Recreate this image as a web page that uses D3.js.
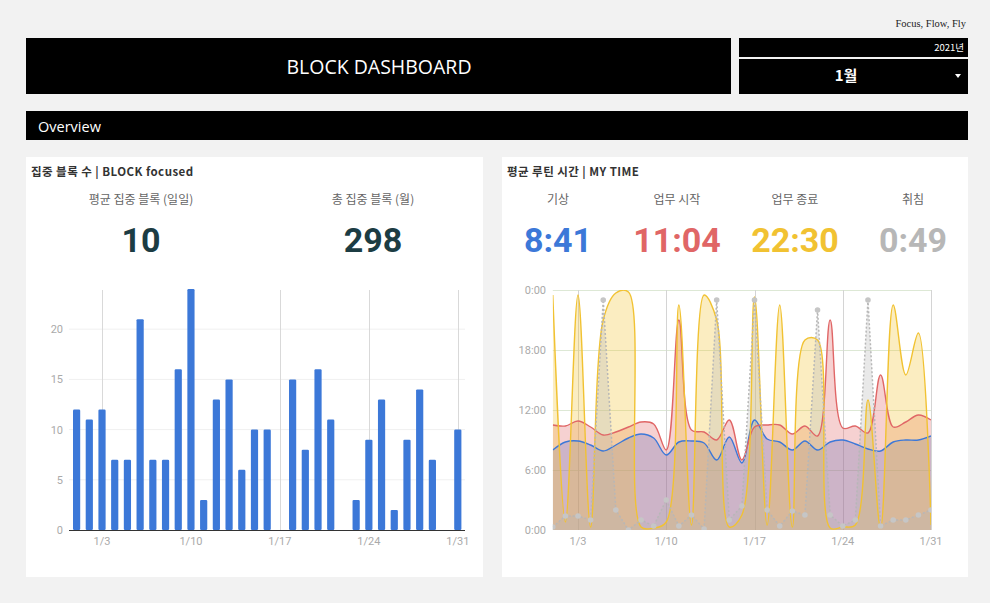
<!DOCTYPE html>
<html>
<head>
<meta charset="utf-8">
<script src="https://cdn.jsdelivr.net/npm/d3@7"></script>
<style>
  html, body { margin: 0; padding: 0; background: #f2f2f2; }
  svg { display: block; }
</style>
</head>
<body>
<svg id="chart" width="990" height="603"></svg>
<script>
// ---------- data ----------
const days = [1,2,3,4,5,6,7,8,9,10,11,12,13,14,15,16,17,18,19,20,21,22,23,24,25,26,27,28,29,30,31];
const blocks = [12,11,12,7,7,21,7,7,16,24,3,13,15,6,10,10,0,15,8,16,11,0,3,9,13,2,9,14,7,0,10];
const wakeTime  = [8.0,8.8,8.9,8.5,7.9,8.5,9.2,9.6,9.2,7.5,8.8,8.9,8.7,7.0,9.3,6.7,11.0,9.1,8.8,8.0,8.9,8.0,8.8,9.0,8.6,8.1,7.9,8.8,9.0,9.0,9.4];
const workStart = [10.5,10.4,10.9,10.3,9.5,9.8,10.3,10.8,10.6,8.0,21.0,10.0,9.8,9.0,11.0,7.0,10.3,10.5,10.5,9.6,10.4,9.4,21.0,10.2,10.4,9.7,15.5,10.3,10.8,11.5,11.0];
const workEnd   = [23.5,0.8,23.5,0.3,21.0,23.7,23.8,0.3,0.2,0.8,22.5,0.5,23.5,21.0,0.3,1.5,23.3,0.5,22.5,0.3,19.0,19.0,0.2,0.3,0.5,13.0,0.2,22.5,15.5,19.7,0.5];
const sleepTime = [0.3,1.4,1.4,1.0,23.0,2.0,0.0,1.0,0.4,3.0,0.4,1.5,0.1,23.0,1.0,2.4,23.0,2.0,0.4,1.9,1.5,22.0,1.5,0.4,1.0,23.0,0.4,1.0,1.0,1.5,2.0];
const xTickDays = [3,10,17,24,31];
const xTickLabels = ["1/3","1/10","1/17","1/24","1/31"];
const blockTicks = [0,5,10,15,20];
const hourTicks = [0,6,12,18,24];
const hourTickLabels = ["0:00","6:00","12:00","18:00","0:00"];
const kpiBlockLabels = ["평균 집중 블록 (일일)", "총 집중 블록 (월)"];
const kpiBlockValues = ["10", "298"];
const routineLabels = ["기상", "업무 시작", "업무 종료", "취침"];
const routineValues = ["8:41", "11:04", "22:30", "0:49"];
const routineColors = ["#3c78d8", "#e06666", "#f1c232", "#b7b7b7"];

const svg = d3.select("#chart");
const KR = "'Noto Sans CJK KR', 'Noto Sans', sans-serif";

// ---------- header ----------
svg.append("text").attr("x", 966).attr("y", 27).attr("text-anchor", "end")
  .attr("font-family", "'Liberation Serif', serif").attr("font-size", 10.5).attr("fill", "#222")
  .text("Focus, Flow, Fly");

svg.append("rect").attr("x", 26).attr("y", 38).attr("width", 705).attr("height", 56).attr("fill", "#000");
svg.append("text").attr("x", 379).attr("y", 74).attr("text-anchor", "middle")
  .attr("font-family", "'Open Sans', sans-serif").attr("font-size", 19.5).attr("fill", "#fff")
  .text("BLOCK DASHBOARD");

svg.append("rect").attr("x", 739).attr("y", 38).attr("width", 229).attr("height", 19).attr("fill", "#000");
svg.append("text").attr("x", 964).attr("y", 51).attr("text-anchor", "end")
  .attr("font-family", KR).attr("font-size", 9.5).attr("fill", "#fff").text("2021년");
svg.append("rect").attr("x", 739).attr("y", 59).attr("width", 229).attr("height", 35).attr("fill", "#000");
svg.append("text").attr("x", 846).attr("y", 80.5).attr("text-anchor", "middle")
  .attr("font-family", KR).attr("font-weight", "bold").attr("font-size", 15).attr("fill", "#fff").text("1월");
svg.append("path").attr("d", "M955,74 L961,74 L958,78 Z").attr("fill", "#fff");

svg.append("rect").attr("x", 26).attr("y", 111).attr("width", 942).attr("height", 29).attr("fill", "#000");
svg.append("text").attr("x", 38).attr("y", 131.5)
  .attr("font-family", "'Open Sans', sans-serif").attr("font-size", 14.5).attr("fill", "#fff").text("Overview");

// ---------- panels ----------
svg.append("rect").attr("x", 26).attr("y", 157).attr("width", 457).attr("height", 420).attr("fill", "#fff");
svg.append("rect").attr("x", 502).attr("y", 157).attr("width", 466).attr("height", 420).attr("fill", "#fff");

svg.append("text").attr("x", 31).attr("y", 176).attr("font-family", KR).attr("font-weight", "bold")
  .attr("font-size", 11.5).attr("letter-spacing", 0.45).attr("fill", "#333").text("집중 블록 수 | BLOCK focused");
svg.append("text").attr("x", 507).attr("y", 176).attr("font-family", KR).attr("font-weight", "bold")
  .attr("font-size", 11.5).attr("letter-spacing", 0.45).attr("fill", "#333").text("평균 루틴 시간 | MY TIME");

// KPI left
const kpiX = [141, 373];
kpiBlockLabels.forEach((t, i) => {
  svg.append("text").attr("x", kpiX[i]).attr("y", 204).attr("text-anchor", "middle")
    .attr("font-family", KR).attr("font-size", 12).attr("fill", "#666").text(t);
  svg.append("text").attr("x", kpiX[i]).attr("y", 252).attr("text-anchor", "middle")
    .attr("font-family", "Roboto, 'Liberation Sans', sans-serif").attr("font-weight", "bold")
    .attr("font-size", 34).attr("fill", "#1c3c43").text(kpiBlockValues[i]);
});
// KPI right
const rX = [558, 677, 795, 913];
routineLabels.forEach((t, i) => {
  svg.append("text").attr("x", rX[i]).attr("y", 204).attr("text-anchor", "middle")
    .attr("font-family", KR).attr("font-size", 12).attr("fill", "#666").text(t);
  svg.append("text").attr("x", rX[i]).attr("y", 252).attr("text-anchor", "middle")
    .attr("font-family", "Roboto, 'Liberation Sans', sans-serif").attr("font-weight", "bold")
    .attr("font-size", 34).attr("fill", routineColors[i]).text(routineValues[i]);
});

// ---------- bar chart ----------
const bx = d3.scaleLinear().domain([1, 31]).range([76.6, 457.8]);
const by = d3.scaleLinear().domain([0, 24]).range([530, 289]);
const gB = svg.append("g");
gB.selectAll(".hg").data(blockTicks.slice(1)).join("line")
  .attr("x1", 69).attr("x2", 465).attr("y1", d => by(d)).attr("y2", d => by(d))
  .attr("stroke", "#f0f0f0").attr("stroke-width", 1);
gB.selectAll(".vg").data(xTickDays).join("line")
  .attr("x1", d => Math.round(bx(d)) + 0.5).attr("x2", d => Math.round(bx(d)) + 0.5)
  .attr("y1", 290).attr("y2", 530).attr("stroke", "#d9d9d9").attr("stroke-width", 1);
gB.selectAll(".bar").data(days.map((d, i) => ({d, v: blocks[i]})).filter(o => o.v > 0)).join("rect")
  .attr("x", o => bx(o.d) - 3.6).attr("width", 7.2)
  .attr("y", o => by(o.v)).attr("height", o => by(0) - by(o.v))
  .attr("rx", 1.2).attr("fill", "#3c78d8");
gB.append("line").attr("x1", 69).attr("x2", 465).attr("y1", 530.5).attr("y2", 530.5)
  .attr("stroke", "#333").attr("stroke-width", 1);
gB.selectAll(".yt").data(blockTicks).join("text")
  .attr("x", 63).attr("y", d => by(d) + 4).attr("text-anchor", "end")
  .attr("font-family", "Roboto, sans-serif").attr("font-size", 11).attr("fill", "#aaa").text(d => d);
gB.selectAll(".xt").data(xTickDays).join("text")
  .attr("x", d => bx(d)).attr("y", 545).attr("text-anchor", "middle")
  .attr("font-family", "Roboto, sans-serif").attr("font-size", 11).attr("fill", "#aaa")
  .text((d, i) => xTickLabels[i]);

// ---------- area chart ----------
const ax = d3.scaleLinear().domain([1, 31]).range([552.8, 931]);
const ay = d3.scaleLinear().domain([0, 24]).range([530, 290]);
const gA = svg.append("g");
svg.append("defs").append("clipPath").attr("id", "plotclip")
  .append("rect").attr("x", ax(1)).attr("y", 290).attr("width", ax(31) - ax(1)).attr("height", 240);

gA.selectAll(".hg").data(hourTicks.slice(1)).join("line")
  .attr("x1", ax(1)).attr("x2", ax(31)).attr("y1", d => ay(d) + 0.5).attr("y2", d => ay(d) + 0.5)
  .attr("stroke", "#dde8d5").attr("stroke-width", 1);
gA.selectAll(".vg").data(xTickDays).join("line")
  .attr("x1", d => Math.round(ax(d)) + 0.5).attr("x2", d => Math.round(ax(d)) + 0.5)
  .attr("y1", 290).attr("y2", 530).attr("stroke", "#d4d4d4").attr("stroke-width", 1);

const plot = gA.append("g").attr("clip-path", "url(#plotclip)");
const smooth = d3.curveCatmullRom.alpha(0.5);
const seriesList = [
  {vals: wakeTime, color: "#3c78d8", curve: smooth, dash: null},
  {vals: workStart, color: "#e06666", curve: smooth, dash: null},
  {vals: workEnd, color: "#f1c232", curve: smooth, dash: null},
  {vals: sleepTime, color: "#b7b7b7", curve: d3.curveLinear, dash: "2,2"}
];
seriesList.forEach(s => {
  const area = d3.area().x((v, i) => ax(days[i])).y0(ay(0)).y1(v => ay(v)).curve(s.curve);
  plot.append("path").attr("d", area(s.vals)).attr("fill", s.color).attr("fill-opacity", 0.3);
});
seriesList.forEach(s => {
  const line = d3.line().x((v, i) => ax(days[i])).y(v => ay(v)).curve(s.curve);
  plot.append("path").attr("d", line(s.vals)).attr("fill", "none").attr("stroke", s.color)
    .attr("stroke-width", s.dash ? 1.5 : 1.4).attr("stroke-dasharray", s.dash);
});
plot.selectAll(".pt").data(sleepTime).join("circle")
  .attr("cx", (v, i) => ax(days[i])).attr("cy", v => ay(v)).attr("r", 2.8).attr("fill", "#c6c6c6");

gA.selectAll(".yt").data(hourTicks).join("text")
  .attr("x", 546).attr("y", d => ay(d) + 4).attr("text-anchor", "end")
  .attr("font-family", "Roboto, sans-serif").attr("font-size", 11).attr("fill", "#aaa")
  .text((d, i) => hourTickLabels[i]);
gA.selectAll(".xt").data(xTickDays).join("text")
  .attr("x", d => ax(d)).attr("y", 545).attr("text-anchor", "middle")
  .attr("font-family", "Roboto, sans-serif").attr("font-size", 11).attr("fill", "#aaa")
  .text((d, i) => xTickLabels[i]);
</script>
</body>
</html>
